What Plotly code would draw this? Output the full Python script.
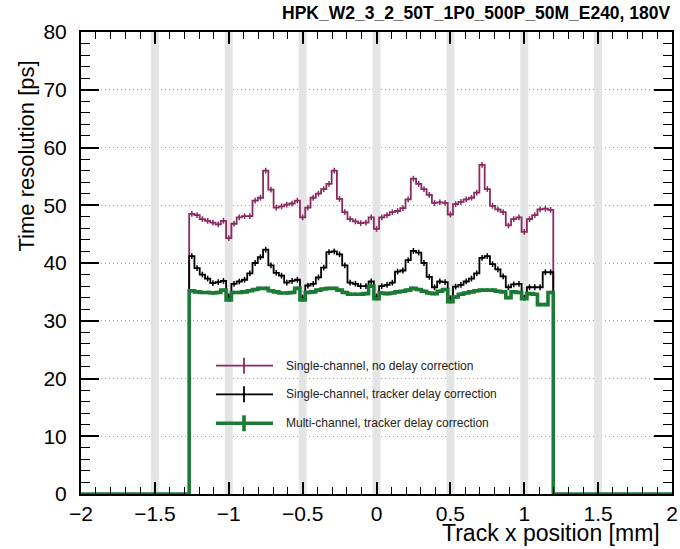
import numpy as np
import plotly.graph_objects as go

# ---------------- data ----------------
bin_index = list(range(-35, 34))          # bin k has centre k/28 mm
bin_width = 1.0 / 28.0
x_range = [-2.0, 2.0]
y_range = [0.0, 80.0]
x_ticks = [-2, -1.5, -1, -0.5, 0, 0.5, 1, 1.5, 2]
band_positions = [-1.5, -1.0, -0.5, 0.0, 0.5, 1.0, 1.5]

single_no_delay = [
    48.5, 48.3, 47.6, 47.3, 47.0, 46.7, 47.3, 44.3, 46.8, 47.9,
    48.1, 48.1, 50.8, 51.3, 56.0, 52.7, 49.6, 49.8, 50.1, 50.3,
    50.8, 47.9, 49.6, 51.3, 52.0, 52.8, 53.7, 56.0, 51.1, 48.8,
    47.6, 47.2, 46.9, 47.0, 47.9, 45.9, 47.9, 48.3, 48.8, 49.0,
    49.5, 51.0, 54.6, 53.7, 52.8, 51.8, 50.4, 50.5, 50.4, 48.4,
    50.2, 50.6, 51.0, 51.3, 52.2, 57.0, 52.8, 49.9, 49.3, 48.8,
    46.5, 47.6, 47.9, 45.4, 47.6, 48.3, 49.3, 49.4, 49.2,
]
single_tracker = [
    41.2, 39.1, 38.0, 37.3, 36.5, 36.7, 36.9, 34.2, 36.4, 36.8,
    37.1, 38.2, 40.0, 41.0, 42.3, 39.6, 38.3, 37.8, 36.6, 36.9,
    37.1, 34.0, 36.1, 36.4, 37.5, 39.2, 41.9, 42.0, 41.5, 39.6,
    36.6, 36.4, 36.0, 36.0, 36.8, 34.2, 36.0, 36.2, 36.6, 38.5,
    38.7, 40.5, 42.1, 41.8, 40.0, 37.6, 35.8, 36.8, 36.7, 33.9,
    35.9, 36.2, 36.8, 37.3, 38.2, 40.9, 41.2, 39.8, 38.9, 37.7,
    35.8, 36.3, 36.4, 34.0, 35.8, 35.8, 35.8, 38.4, 38.4,
]
multi_tracker = [
    35.2, 35.0, 34.9, 34.9, 34.8, 34.9, 35.3, 33.6, 34.9, 34.9,
    35.0, 35.2, 35.4, 35.6, 35.6, 35.2, 35.0, 34.8, 34.8, 34.9,
    35.6, 33.6, 34.9, 35.0, 35.3, 35.5, 35.6, 35.6, 35.3, 34.9,
    34.6, 34.6, 34.6, 34.7, 36.0, 33.8, 34.8, 34.7, 34.8, 35.0,
    35.1, 35.3, 35.6, 35.4, 35.1, 34.8, 34.7, 35.1, 35.4, 33.3,
    34.1, 34.6, 34.8, 35.0, 35.2, 35.3, 35.3, 35.3, 35.1, 35.0,
    34.0, 35.0, 34.9, 33.8, 34.7, 34.6, 32.8, 32.8, 34.9,
]
err_single_no_delay = 0.5
err_single_tracker = 0.5
err_multi_tracker = 0.3

labels = [
    "Single-channel, no delay correction",
    "Single-channel, tracker delay correction",
    "Multi-channel, tracker delay correction",
]
colors = ["#8B2A60", "#000000", "#1B7B35"]
widths = [1.8, 1.8, 3.6]
title_text = "HPK_W2_3_2_50T_1P0_500P_50M_E240, 180V"
x_title = "Track x position [mm]"
y_title = "Time resolution [ps]"

# ---------------- figure ----------------
W, H = 680, 549
ML, MR, MT, MB = 81, 8, 32, 55
PW, PH = W - ML - MR, H - MT - MB
FONT = "Liberation Sans, Arial, Helvetica, sans-serif"


def px(xp):
    return (xp - ML) / PW


def py(yp):
    return (H - MB - yp) / PH


centers = np.array(bin_index) / 28.0
lo_edges = centers - bin_width / 2
hi_edge = centers[-1] + bin_width / 2

fig = go.Figure()
series = [single_no_delay, single_tracker, multi_tracker]
errs = [err_single_no_delay, err_single_tracker, err_multi_tracker]
for vals, err, col, lw in zip(series, errs, colors, widths):
    xs = [x_range[0]] + list(lo_edges) + [hi_edge, x_range[1]]
    ys = [0.0] + list(vals) + [0.0, 0.0]
    fig.add_trace(go.Scatter(x=xs, y=ys, mode="lines", line=dict(color=col, width=lw, shape="hv"),
                             showlegend=False, hoverinfo="skip", cliponaxis=True))
    fig.add_trace(go.Scatter(x=centers, y=vals, mode="markers",
                             marker=dict(size=2, color=col),
                             error_y=dict(type="constant", value=err, width=0,
                                          thickness=1.5 if lw < 3 else 2.5, color=col),
                             showlegend=False))

shapes = []
for b in band_positions:
    shapes.append(dict(type="rect", xref="x", yref="y", x0=b - 0.027, x1=b + 0.027,
                       y0=y_range[0], y1=y_range[1], fillcolor="#E4E4E4", line=dict(width=0),
                       layer="between"))
# legend background box
shapes.append(dict(type="rect", xref="paper", yref="paper", x0=px(203), x1=px(533),
                   y0=py(440), y1=py(350), fillcolor="white", line=dict(width=0), layer="between"))

annotations = []
rows = [365.7, 394.3, 423.3]
for lab, col, lw, r in zip(labels, colors, widths, rows):
    shapes.append(dict(type="line", xref="paper", yref="paper", x0=px(216), x1=px(273),
                       y0=py(r), y1=py(r), line=dict(color=col, width=lw), layer="above"))
    shapes.append(dict(type="line", xref="paper", yref="paper", x0=px(244), x1=px(244),
                       y0=py(r - 8), y1=py(r + 8), line=dict(color=col, width=lw), layer="above"))
    annotations.append(dict(text=lab, xref="paper", yref="paper", x=px(284), y=py(r),
                            xanchor="left", yanchor="middle", showarrow=False,
                            font=dict(family=FONT, size=12, color="#222")))

annotations.append(dict(text="<b>" + title_text + "</b>", xref="paper", yref="paper",
                        x=px(673), y=py(13), xanchor="right", yanchor="middle", showarrow=False,
                        font=dict(family=FONT, size=17.5, color="black")))
annotations.append(dict(text=x_title, xref="paper", yref="paper", x=px(662), y=py(533),
                        xanchor="right", yanchor="middle", showarrow=False,
                        font=dict(family=FONT, size=23, color="black")))
annotations.append(dict(text=y_title, xref="paper", yref="paper", x=px(26), y=py(59),
                        xanchor="center", yanchor="top", textangle=-90, showarrow=False,
                        font=dict(family=FONT, size=22, color="black")))

fig.update_layout(
    width=W, height=H,
    margin=dict(l=ML, r=MR, t=MT, b=MB, autoexpand=False),
    paper_bgcolor="white", plot_bgcolor="white",
    shapes=shapes, annotations=annotations,
    showlegend=False,
    font=dict(family=FONT, size=21, color="black"),
)
fig.update_xaxes(range=x_range, tickvals=x_ticks, ticks="inside", ticklen=12, tickwidth=1.5,
                 tickcolor="black", showline=True, linecolor="black", linewidth=2, mirror="allticks",
                 showgrid=False, zeroline=False, automargin=False,
                 minor=dict(ticks="inside", ticklen=7, tickwidth=1.2, dtick=0.1, tickcolor="black",
                            showgrid=False),
                 tickfont=dict(size=21), ticklabelstandoff=0)
fig.update_yaxes(range=y_range, dtick=10, ticks="inside", ticklen=18, tickwidth=1.5,
                 tickcolor="black", showline=True, linecolor="black", linewidth=2, mirror="allticks",
                 showgrid=True, gridcolor="#A0A0A0", griddash="1px,3px", gridwidth=1, zeroline=False,
                 automargin=False,
                 minor=dict(ticks="inside", ticklen=9, tickwidth=1.2, dtick=2, tickcolor="black",
                            showgrid=False),
                 tickfont=dict(size=21), ticklabelstandoff=8)

fig.write_html("out.html", config={"displayModeBar": False},
               post_script="document.body.style.margin='0';document.body.style.overflow='hidden';")
